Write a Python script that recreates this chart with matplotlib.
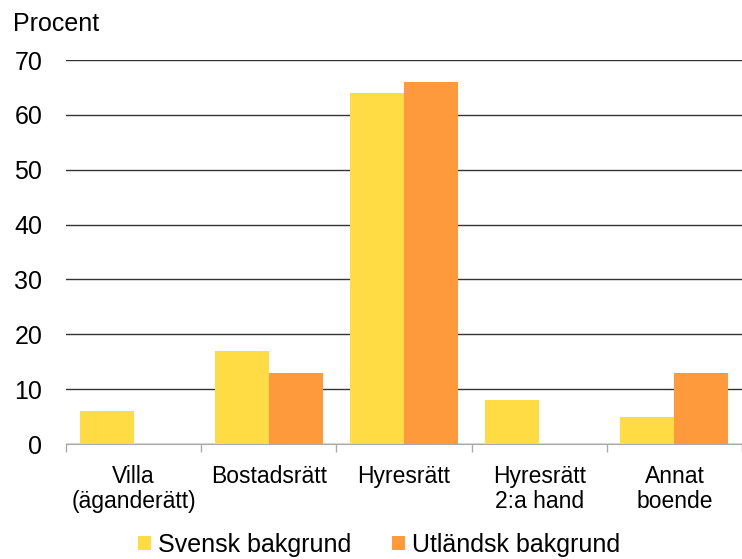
import numpy as np
import matplotlib.pyplot as plt

plt.rcParams['font.family'] = ['Liberation Sans', 'DejaVu Sans']

kategorier = ['Villa\n(äganderätt)', 'Bostadsrätt', 'Hyresrätt', 'Hyresrätt\n2:a hand', 'Annat\nboende']
svensk = [6, 17, 64, 8, 5]
utlandsk = [0, 13, 66, 0, 13]
serier = ['Svensk bakgrund', 'Utländsk bakgrund']
farger = ['#FFDC44', '#FF9A3C']

fig = plt.figure(figsize=(7.42, 5.59), dpi=100)
ax = fig.add_axes([66 / 742, 115 / 559, 1 - 66 / 742, 384 / 559])

x = np.arange(len(kategorier))
w = 0.4
ax.bar(x - w / 2, svensk, w, color=farger[0], label=serier[0], zorder=3)
ax.bar(x + w / 2, utlandsk, w, color=farger[1], label=serier[1], zorder=3)

ax.set_ylim(0, 70)
ax.set_xlim(-0.5, 4.455)
ax.set_yticks(range(0, 71, 10))
ax.yaxis.grid(True, color='#333333', linewidth=1)
ax.set_axisbelow(True)
ax.tick_params(axis='y', length=0, labelsize=18, pad=17)

ax.set_xticks(np.arange(-0.5, 5, 1))
ax.set_xticklabels([])
ax.set_xticks(x, minor=True)
ax.set_xticklabels(kategorier, minor=True, fontsize=16.5, linespacing=1.1)
ax.tick_params(axis='x', which='major', length=6, color='#aaaaaa', width=1)
ax.tick_params(axis='x', which='minor', length=0, pad=15)

for s in ['top', 'right', 'left']:
    ax.spines[s].set_visible(False)
ax.spines['bottom'].set_color('#aaaaaa')

fig.text(13 / 742, 1 - 24 / 559, 'Procent', fontsize=18, va='center', ha='left')

fig.legend(loc='center', bbox_to_anchor=(379 / 742, 1 - 545 / 559), ncol=2, frameon=False,
           fontsize=18, handlelength=0.52, handleheight=0.52, handletextpad=0.3,
           columnspacing=1.6, borderpad=0)

fig.savefig('out.png', dpi=100)
